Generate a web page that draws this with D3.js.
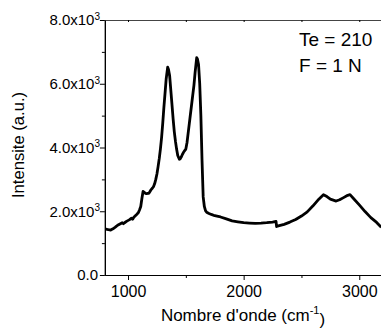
<!DOCTYPE html>
<html><head><meta charset="utf-8">
<script src="https://cdn.jsdelivr.net/npm/d3@7"></script>
<style>
html,body{margin:0;padding:0;background:#fff;}
svg{display:block;font-family:"Liberation Sans",Arial,sans-serif;}
</style></head>
<body>
<script>
const wavenumber = [790,810,830,850,870,890,910,930,950,960,970,990,1010,1030,1040,1050,1070,1090,1100,1110,1120,1130,1140,1150,1160,1170,1180,1190,1200,1210,1220,1230,1240,1250,1260,1270,1280,1290,1300,1310,1320,1330,1343,1350,1360,1370,1380,1390,1400,1410,1420,1430,1444,1450,1460,1470,1480,1490,1500,1510,1520,1530,1540,1550,1560,1570,1580,1594,1600,1610,1620,1630,1640,1650,1660,1670,1680,1700,1720,1750,1800,1850,1900,1950,2000,2050,2100,2150,2200,2250,2280,2285,2300,2350,2400,2450,2500,2550,2600,2650,2690,2720,2750,2800,2830,2860,2900,2920,2950,3000,3050,3100,3150,3190];
const intensity = [1470,1440,1420,1410,1450,1500,1560,1600,1640,1610,1640,1690,1730,1780,1750,1810,1880,1960,2050,2150,2400,2620,2600,2560,2550,2560,2560,2620,2680,2720,2770,2860,3000,3170,3400,3650,3950,4300,4750,5250,5700,6150,6520,6450,6250,5800,5350,4900,4500,4200,3950,3750,3630,3640,3700,3780,3850,3900,3950,4150,4450,4750,5050,5350,5650,5950,6350,6820,6780,6600,6000,5000,3600,2450,2150,2020,1970,1930,1900,1860,1820,1760,1700,1670,1640,1630,1620,1625,1640,1660,1680,1520,1540,1590,1660,1740,1850,1980,2170,2380,2520,2460,2380,2320,2360,2420,2500,2520,2400,2200,1990,1800,1650,1500];
const xMajorTicks = [1000,2000,3000];
const xMinorTicks = [1500,2500];
const yMajorTicks = [0,2000,4000,6000,8000];
const yMinorTicks = [1000,3000,5000,7000];
const yTickLabels = ["0.0","2.0x10","4.0x10","6.0x10","8.0x10"];
const annotations = ["Te = 210","F = 1 N"];

const W=381,H=330;
const svg=d3.select("body").append("svg").attr("width",W).attr("height",H);
const x=d3.scaleLinear().domain([800,3200]).range([104.9,382.4]);
const y=d3.scaleLinear().domain([0,8000]).range([275,20]);
const data=wavenumber.map((w,i)=>({w,v:intensity[i]}));

svg.append("defs").append("clipPath").attr("id","c").append("rect")
 .attr("x",x(800)).attr("y",y(8000)).attr("width",x(3200)-x(800)).attr("height",y(0)-y(8000));

svg.append("path").datum(data).attr("clip-path","url(#c)")
 .attr("fill","none").attr("stroke","#000").attr("stroke-width",2.8).attr("stroke-linejoin","round")
 .attr("d",d3.line().x(d=>x(d.w)).y(d=>y(d.v)));

// bottom axis
const gBottom=svg.append("g").attr("transform",`translate(0,${y(0)})`)
 .call(d3.axisBottom(x).tickValues(xMajorTicks).tickSize(5).tickSizeOuter(0).tickFormat(d3.format("d")));
gBottom.append("g").call(d3.axisBottom(x).tickValues(xMinorTicks).tickSize(3).tickSizeOuter(0).tickFormat(""));
// top axis
const gTop=svg.append("g").attr("transform",`translate(0,${y(8000)})`)
 .call(d3.axisBottom(x).tickValues(xMajorTicks.concat(xMinorTicks)).tickSize(2).tickSizeOuter(0).tickFormat(""));
// left axis
const gLeft=svg.append("g").attr("transform",`translate(${x(800)},0)`)
 .call(d3.axisLeft(y).tickValues(yMajorTicks).tickSize(5).tickSizeOuter(0).tickFormat(""));
gLeft.append("g").call(d3.axisLeft(y).tickValues(yMinorTicks).tickSize(3).tickSizeOuter(0).tickFormat(""));
svg.selectAll(".domain").attr("stroke","#000").attr("stroke-width",1.2);
svg.selectAll(".tick line").attr("stroke","#000");
gTop.select(".domain").attr("stroke","#444");
gBottom.selectAll(".tick text").attr("font-size",16).attr("font-family","Liberation Sans, Arial").attr("fill","#000").attr("dy","0.9em");

// y tick labels with superscripts
yMajorTicks.forEach((t,i)=>{
  const tx=svg.append("text").attr("x",t===0?98:100).attr("y",y(t)).attr("dy","0.35em")
   .attr("text-anchor","end").attr("font-size",15).attr("fill","#000");
  tx.append("tspan").text(yTickLabels[i]);
  if(t!==0){ tx.append("tspan").attr("dy","-0.55em").attr("font-size",10).text("3"); }
});

// y title
svg.append("text").attr("transform","translate(24,145) rotate(-90)").attr("text-anchor","middle")
 .attr("font-size",16.6).attr("fill","#000").text("Intensite (a.u.)");
// x title
const xt=svg.append("text").attr("x",243).attr("y",321).attr("text-anchor","middle").attr("font-size",17).attr("fill","#000");
xt.append("tspan").text("Nombre d'onde (cm");
xt.append("tspan").attr("dy","-0.6em").attr("font-size",11).text("-1");
xt.append("tspan").attr("dy","0.6em").text(")");

// annotations
annotations.forEach((a,i)=>{
  svg.append("text").attr("x",299).attr("y",46+i*26).attr("font-size",19).attr("fill","#000").text(a);
});
</script>
</body></html>
